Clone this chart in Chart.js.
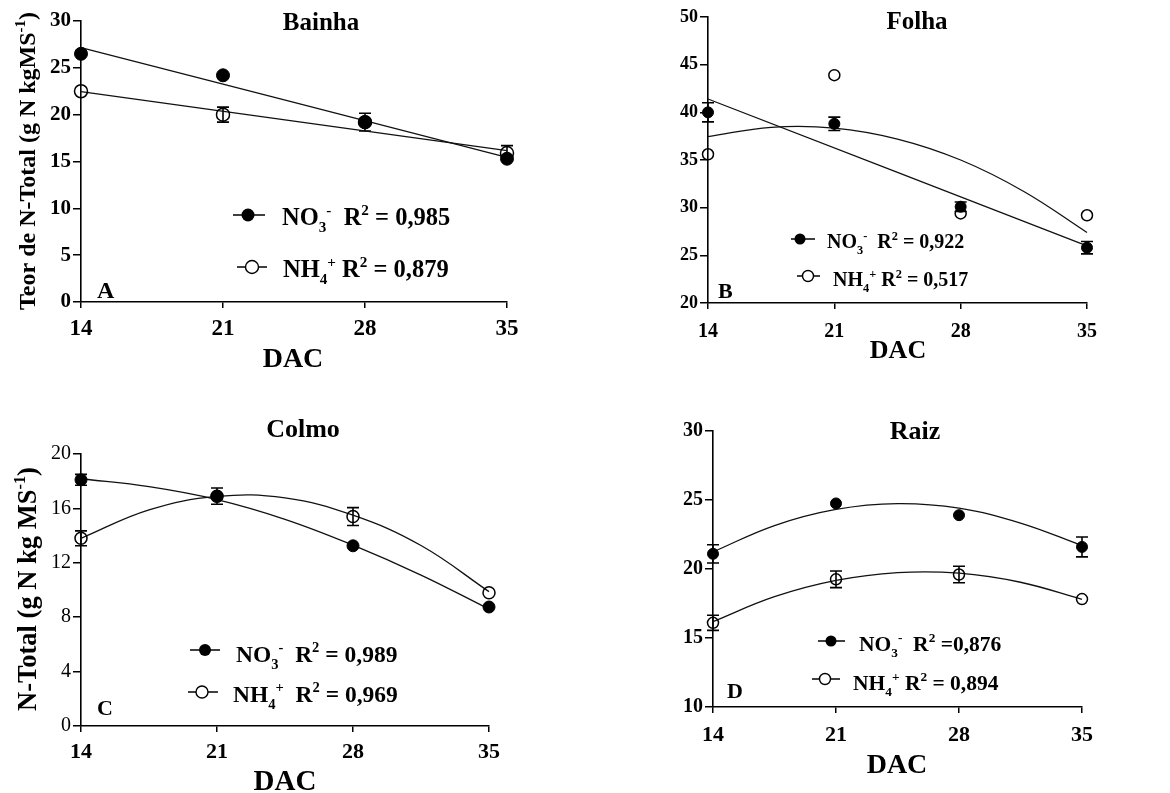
<!DOCTYPE html>
<html>
<head>
<meta charset="utf-8">
<script src="https://cdn.jsdelivr.net/npm/chart.js@4.4.1/dist/chart.umd.min.js"></script>
<style>
  body { margin: 0; background: #fff; }
  canvas { position: absolute; }
</style>
</head>
<body>
<canvas id="cA" width="585" height="395" style="left:0;top:0"></canvas>
<canvas id="cB" width="585" height="395" style="left:585px;top:0"></canvas>
<canvas id="cC" width="585" height="398" style="left:0;top:395px"></canvas>
<canvas id="cD" width="585" height="398" style="left:585px;top:395px"></canvas>
<script>
const days = [14, 21, 28, 35];
const lineDays = [14, 35];
const curveDays = [14, 17.5, 21, 24.5, 28, 31.5, 35];

// Bainha (A)
const bainhaNO3 = [26.5, 24.2, 19.2, 15.3];
const bainhaNO3Err = [0, 0, 0.95, 0];
const bainhaNH4 = [22.5, 20.0, 19.2, 15.9];
const bainhaNH4Err = [0, 0.8, 0, 0.8];
const bainhaNO3Fit = [27.15, 15.45];
const bainhaNH4Fit = [22.45, 16.15];

// Folha (B)
const folhaNO3 = [40.0, 38.8, 30.1, 25.8];
const folhaNO3Err = [1.0, 0.7, 0.5, 0.65];
const folhaNH4 = [35.6, 43.9, 29.4, 29.2];
const folhaNH4Err = [0, 0, 0, 0];
const folhaNO3Fit = [41.4, 26.0];
const folhaNH4Fit = [37.45, 38.43, 38.35, 37.2, 35.0, 31.7, 27.4];

// Colmo (C)
const colmoNO3 = [18.1, 16.9, 13.25, 8.75];
const colmoNO3Err = [0.4, 0.6, 0, 0];
const colmoNH4 = [13.8, 16.9, 15.4, 9.8];
const colmoNH4Err = [0.55, 0, 0.66, 0];
const colmoNO3Fit = [18.18, 17.6, 16.65, 15.2, 13.3, 11.1, 8.6];
const colmoNH4Fit = [13.8, 15.89, 16.88, 16.77, 15.5, 13.27, 9.88];

// Raiz (D)
const raizNO3 = [21.1, 24.75, 23.9, 21.6];
const raizNO3Err = [0.66, 0, 0, 0.72];
const raizNH4 = [16.1, 19.25, 19.6, 17.82];
const raizNH4Err = [0.55, 0.6, 0.6, 0];
const raizNO3Fit = [21.24, 23.15, 24.32, 24.74, 24.41, 23.33, 21.7];
const raizNH4Fit = [16.18, 17.99, 19.17, 19.74, 19.7, 19.04, 17.8];

const FONT = '"Liberation Serif", "Times New Roman", serif';
const pts = (xs, ys) => xs.map((x, i) => ({ x: x, y: ys[i] }));

// text with sub/superscripts: '_3' is subscript, '^2' superscript
function richWidth(ctx, parts, size, weight) {
  let w = 0;
  parts.forEach(p => {
    const small = p[0] === '_' || p[0] === '^';
    ctx.font = `${weight} ${small ? size * 0.62 : size}px ${FONT}`;
    w += ctx.measureText(small ? p.slice(1) : p).width;
  });
  return w;
}
function drawRich(ctx, x, y, parts, size, weight, align) {
  weight = weight || 'bold';
  if (align === 'center') x -= richWidth(ctx, parts, size, weight) / 2;
  ctx.textAlign = 'left';
  ctx.textBaseline = 'alphabetic';
  ctx.fillStyle = '#000';
  parts.forEach(p => {
    let dy = 0, s = size, t = p;
    if (p[0] === '_') { dy = size * 0.28; s = size * 0.62; t = p.slice(1); }
    if (p[0] === '^') { dy = -size * 0.42; s = size * 0.62; t = p.slice(1); }
    ctx.font = `${weight} ${s}px ${FONT}`;
    ctx.fillText(t, x, y + dy);
    x += ctx.measureText(t).width;
  });
}

const errorBars = {
  id: 'errorBars',
  beforeDatasetsDraw(chart) {
    const ctx = chart.ctx, y = chart.scales.y;
    chart.data.datasets.forEach((ds, i) => {
      if (!ds.errors) return;
      chart.getDatasetMeta(i).data.forEach((el, j) => {
        const e = ds.errors[j];
        if (!e) return;
        const v = ds.data[j].y;
        const top = y.getPixelForValue(v + e), bot = y.getPixelForValue(v - e);
        ctx.save();
        ctx.strokeStyle = '#000';
        ctx.lineWidth = 1.6;
        ctx.beginPath();
        ctx.moveTo(el.x, top); ctx.lineTo(el.x, bot);
        ctx.moveTo(el.x - 6, top); ctx.lineTo(el.x + 6, top);
        ctx.moveTo(el.x - 6, bot); ctx.lineTo(el.x + 6, bot);
        ctx.stroke();
        ctx.restore();
      });
    });
  }
};

const annotations = {
  id: 'annotations',
  afterDraw(chart) {
    const ctx = chart.ctx, a = chart.options.plugins.annotations;
    ctx.save();
    drawRich(ctx, a.title[0], a.title[1], [a.title[2]], a.title[3], 'bold', 'center');
    drawRich(ctx, a.xTitle[0], a.xTitle[1], ['DAC'], a.xTitle[2], 'bold', 'center');
    drawRich(ctx, a.letter[0], a.letter[1], [a.letter[2]], a.letter[3]);
    if (a.yTitle) {
      ctx.save();
      ctx.translate(a.yTitle[0], a.yTitle[1]);
      ctx.rotate(-Math.PI / 2);
      drawRich(ctx, 0, a.yTitle[3] * 0.33, a.yTitle[2], a.yTitle[3], 'bold', 'center');
      ctx.restore();
    }
    a.legend.forEach(r => {
      ctx.strokeStyle = '#000';
      ctx.lineWidth = 1.5;
      ctx.beginPath();
      ctx.moveTo(r.line[0], r.marker[1]); ctx.lineTo(r.line[1], r.marker[1]);
      ctx.stroke();
      ctx.beginPath();
      ctx.arc(r.marker[0], r.marker[1], r.r, 0, Math.PI * 2);
      if (r.filled) { ctx.fillStyle = '#000'; ctx.fill(); }
      else { ctx.fillStyle = '#fff'; ctx.fill(); ctx.lineWidth = 1.4; ctx.stroke(); }
      drawRich(ctx, r.text[0], r.text[1], r.parts, r.size);
    });
    ctx.restore();
  }
};

function makePanel(id, p) {
  const tickFont = (size, weight) => ({ family: FONT, size: size, weight: weight });
  new Chart(document.getElementById(id), {
    type: 'line',
    data: {
      datasets: [
        { data: pts(days, p.no3), errors: p.no3Err, showLine: false, clip: false,
          pointRadius: p.r, pointBackgroundColor: '#000', pointBorderColor: '#000', pointBorderWidth: 1 },
        { data: pts(days, p.nh4), errors: p.nh4Err, showLine: false, clip: false,
          pointRadius: p.r, pointBackgroundColor: 'rgba(255,255,255,0)', pointBorderColor: '#000', pointBorderWidth: 1.5 },
        { data: pts(p.no3FitX, p.no3Fit), pointRadius: 0, borderColor: '#111', borderWidth: 1.3, tension: 0.4, fill: false, clip: false },
        { data: pts(p.nh4FitX, p.nh4Fit), pointRadius: 0, borderColor: '#111', borderWidth: 1.3, tension: 0.4, fill: false, clip: false }
      ]
    },
    options: {
      responsive: false,
      animation: false,
      devicePixelRatio: 1,
      events: [],
      layout: { padding: { left: 0, top: p.top, right: p.right, bottom: 0 } },
      plugins: {
        legend: { display: false },
        tooltip: { enabled: false },
        annotations: p.text
      },
      scales: {
        x: {
          type: 'linear', min: 14, max: 35,
          ticks: { stepSize: 7, color: '#000', padding: p.xPad, font: tickFont(p.xFont, 'bold') },
          grid: { drawOnChartArea: false, tickLength: 6, color: '#000', lineWidth: 1.5 },
          border: { color: '#000', width: 1.6 },
          afterFit: s => { s.height = p.xh; }
        },
        y: {
          type: 'linear', min: p.yMin, max: p.yMax,
          ticks: { stepSize: p.yStep, color: '#000', padding: 2, font: tickFont(p.yFont, p.yWeight) },
          grid: { drawOnChartArea: false, tickLength: 8, color: '#000', lineWidth: 1.5 },
          border: { color: '#000', width: 1.6 },
          afterFit: s => { s.width = p.yw; }
        }
      }
    },
    plugins: [errorBars, annotations]
  });
}

makePanel('cA', {
  no3: bainhaNO3, no3Err: bainhaNO3Err, nh4: bainhaNH4, nh4Err: bainhaNH4Err,
  no3FitX: lineDays, no3Fit: bainhaNO3Fit, nh4FitX: lineDays, nh4Fit: bainhaNH4Fit,
  yMin: 0, yMax: 30, yStep: 5, r: 6.5,
  top: 21, right: 78, yw: 81, xh: 93, xFont: 23, yFont: 21, yWeight: 'bold', xPad: 7,
  text: {
    title: [321, 30, 'Bainha', 25],
    xTitle: [293, 367, 28],
    letter: [97, 298, 'A', 24],
    yTitle: [27, 161, ['Teor de N-Total (g N kgMS', '^-1', ')'], 24],
    legend: [
      { marker: [248, 215], line: [233, 265], r: 6.5, filled: true, text: [282, 225], size: 24.5,
        parts: ['NO', '_3', '^-', '  R', '^2', ' = 0,985'] },
      { marker: [252, 267], line: [237, 267], r: 6.5, filled: false, text: [283, 277], size: 24.5,
        parts: ['NH', '_4', '^+', ' R', '^2', ' = 0,879'] }
    ]
  }
});

makePanel('cB', {
  no3: folhaNO3, no3Err: folhaNO3Err, nh4: folhaNH4, nh4Err: folhaNH4Err,
  no3FitX: lineDays, no3Fit: folhaNO3Fit, nh4FitX: curveDays, nh4Fit: folhaNH4Fit,
  yMin: 20, yMax: 50, yStep: 5, r: 5.5,
  top: 17, right: 83, yw: 123, xh: 92, xFont: 20, yFont: 18, yWeight: 'bold', xPad: 11,
  text: {
    title: [332, 29, 'Folha', 25],
    xTitle: [313, 358, 26],
    letter: [133, 298, 'B', 22],
    yTitle: null,
    legend: [
      { marker: [215, 239], line: [206, 230], r: 5.5, filled: true, text: [242, 248], size: 20,
        parts: ['NO', '_3', '^-', '  R', '^2', ' = 0,922'] },
      { marker: [223, 276], line: [212, 235], r: 5.5, filled: false, text: [248, 286], size: 20,
        parts: ['NH', '_4', '^+', ' R', '^2', ' = 0,517'] }
    ]
  }
});

makePanel('cC', {
  no3: colmoNO3, no3Err: colmoNO3Err, nh4: colmoNH4, nh4Err: colmoNH4Err,
  no3FitX: curveDays, no3Fit: colmoNO3Fit, nh4FitX: curveDays, nh4Fit: colmoNH4Fit,
  yMin: 0, yMax: 20, yStep: 4, r: 6,
  top: 59, right: 96, yw: 81, xh: 67, xFont: 22, yFont: 20, yWeight: 'normal', xPad: 7,
  text: {
    title: [303, 42, 'Colmo', 26],
    xTitle: [285, 395, 29],
    letter: [97, 320, 'C', 22],
    yTitle: [27, 194, ['N-Total (g N kg MS', '^-1', ')'], 26.5],
    legend: [
      { marker: [205, 255], line: [190, 220], r: 6, filled: true, text: [236, 267], size: 23.5,
        parts: ['NO', '_3', '^-', '  R', '^2', ' = 0,989'] },
      { marker: [202, 297], line: [188, 218], r: 6, filled: false, text: [233, 307], size: 23.5,
        parts: ['NH', '_4', '^+', '  R', '^2', ' = 0,969'] }
    ]
  }
});

makePanel('cD', {
  no3: raizNO3, no3Err: raizNO3Err, nh4: raizNH4, nh4Err: raizNH4Err,
  no3FitX: curveDays, no3Fit: raizNO3Fit, nh4FitX: curveDays, nh4Fit: raizNH4Fit,
  yMin: 10, yMax: 30, yStep: 5, r: 5.5,
  top: 36, right: 88, yw: 128, xh: 86, xFont: 22, yFont: 20, yWeight: 'bold', xPad: 9,
  text: {
    title: [330, 44, 'Raiz', 26],
    xTitle: [312, 378, 28],
    letter: [142, 303, 'D', 22],
    yTitle: null,
    legend: [
      { marker: [246, 246], line: [233, 260], r: 5.5, filled: true, text: [274, 256], size: 21.5,
        parts: ['NO', '_3', '^-', '  R', '^2', ' =0,876'] },
      { marker: [240, 284], line: [227, 255], r: 5.5, filled: false, text: [268, 295], size: 21.5,
        parts: ['NH', '_4', '^+', ' R', '^2', ' = 0,894'] }
    ]
  }
});
</script>
</body>
</html>
